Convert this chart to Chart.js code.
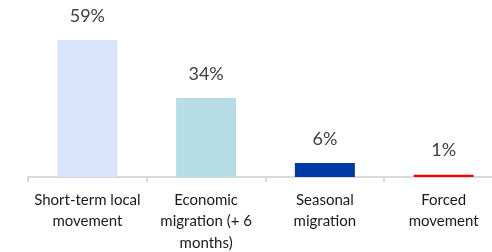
<!DOCTYPE html>
<html>
<head>
<meta charset="utf-8">
<script src="https://cdn.jsdelivr.net/npm/chart.js@4/dist/chart.umd.min.js"></script>
<style>
  html, body { margin: 0; padding: 0; background: #fff; overflow: hidden; }
  #wrap { width: 504px; height: 252px; }
</style>
</head>
<body>
<div id="wrap"><canvas id="chart" width="504" height="252"></canvas></div>
<script>
    // data
    const categories = [
        ["Short-term local", "movement"],
        ["Economic", "migration (+ 6", "months)"],
        ["Seasonal", "migration"],
        ["Forced", "movement"]
    ];
    const shares = [59, 34, 6, 1];
    const barColors = ["#d9e3fb", "#b7dde7", "#0039a6", "#ff0000"];

    // draws the "59%" style labels above each bar
    const valueLabels = {
        id: "valueLabels",
        afterDatasetsDraw(chart) {
            let ctx = chart.ctx;
            let meta = chart.getDatasetMeta(0);
            ctx.save();
            ctx.font = "18px Lato";
            ctx.fillStyle = "#404040";
            ctx.textAlign = "center";
            ctx.textBaseline = "middle";
            meta.data.forEach(function (bar, i) {
                ctx.fillText(shares[i] + "%", bar.x, bar.y - 24);
            });
            ctx.restore();
        }
    };

    let ctx = document.getElementById("chart");
    let myChart = new Chart(ctx, {
        type: "bar",
        data: {
            labels: categories,
            datasets: [{
                data: shares,
                backgroundColor: barColors,
                borderWidth: 0,
                categoryPercentage: 1,
                barPercentage: 0.505
            }]
        },
        options: {
            responsive: false,
            animation: false,
            layout: { padding: { left: 28, right: 1, top: 26, bottom: 0 } },
            plugins: { legend: { display: false }, tooltip: { enabled: false } },
            scales: {
                x: {
                    afterFit: function (scale) { scale.height = 75; },
                    border: { color: "#d9d9d9", width: 2 },
                    grid: { offset: true, drawOnChartArea: false, tickLength: 5, color: "#d9d9d9", lineWidth: 2 },
                    ticks: {
                        color: "#1a1a1a",
                        font: { family: "Lato", size: 15, lineHeight: 1.45 },
                        maxRotation: 0,
                        autoSkip: false,
                        padding: 7
                    }
                },
                y: { display: false, min: 0, max: 65 }
            }
        },
        plugins: [valueLabels]
    });
</script>
</body>
</html>
